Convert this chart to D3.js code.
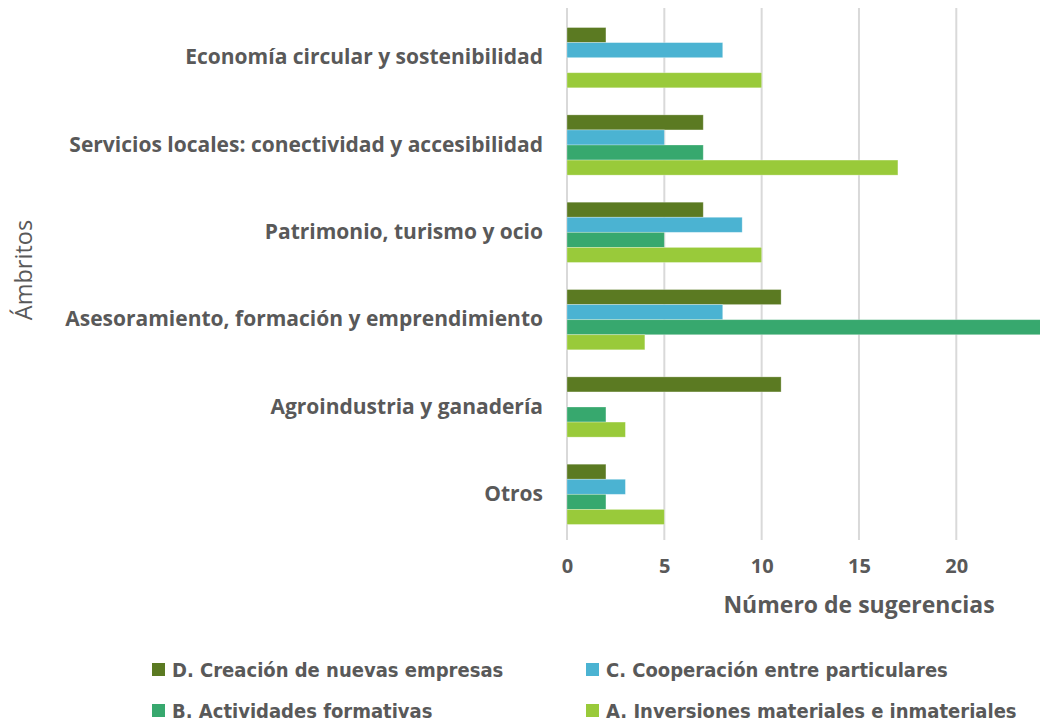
<!DOCTYPE html>
<html>
<head>
<meta charset="utf-8">
<script src="https://cdn.jsdelivr.net/npm/d3@7"></script>
<style>
  html, body { margin: 0; padding: 0; background: #fff; }
  svg { display: block; }
</style>
</head>
<body>
<svg id="chart" width="1040" height="722"></svg>
<script>
// Ámbitos (top to bottom)
const categories = [
  "Economía circular y sostenibilidad",
  "Servicios locales: conectividad y accesibilidad",
  "Patrimonio, turismo y ocio",
  "Asesoramiento, formación y emprendimiento",
  "Agroindustria y ganadería",
  "Otros"
];

// Series, in the order they are stacked inside each group
const seriesNames = [
  "D. Creación de nuevas empresas",
  "C. Cooperación entre particulares",
  "B. Actividades formativas",
  "A. Inversiones materiales e inmateriales"
];

const valuesD = [2, 7, 7, 11, 11, 2];
const valuesC = [8, 5, 9, 8, 0, 3];
const valuesB = [0, 7, 5, 25, 2, 2];
const valuesA = [10, 17, 10, 4, 3, 5];

const xTicks = [0, 5, 10, 15, 20];
const xMax = 24.3;

const colors = ["#5B7A22", "#4BB3D2", "#37A86E", "#99CA3A"];

const seriesValues = [valuesD, valuesC, valuesB, valuesA];

const svg = d3.select("#chart");
const plot = { left: 567, right: 1040, top: 14, bottom: 538 };

const x = d3.scaleLinear().domain([0, xMax]).range([plot.left, plot.right]);
const y = d3.scaleBand().domain(categories).range([plot.top, plot.bottom]).paddingInner(0.31).paddingOuter(0.155);
const ySub = d3.scaleBand().domain(seriesNames).range([0, y.bandwidth()]);

const textColor = "#595959";

// vertical gridlines
svg.append("g")
  .selectAll("line")
  .data(xTicks)
  .join("line")
  .attr("x1", d => x(d)).attr("x2", d => x(d))
  .attr("y1", 8).attr("y2", 540)
  .attr("stroke", "#d9d9d9")
  .attr("stroke-width", 2);

// bars
const groups = svg.append("g")
  .selectAll("g")
  .data(categories)
  .join("g")
  .attr("transform", d => `translate(0,${y(d)})`);

groups.selectAll("rect")
  .data((c, i) => seriesNames.map((s, j) => ({ s, j, v: seriesValues[j][i] })))
  .join("rect")
  .filter(d => d.v > 0)
  .attr("x", x(0))
  .attr("y", d => ySub(d.s))
  .attr("width", d => x(d.v) - x(0))
  .attr("height", ySub.bandwidth())
  .attr("fill", d => colors[d.j])
  .attr("stroke", "rgba(255,255,255,0.35)")
  .attr("stroke-width", 0.8);

// category labels
const yAxis = d3.axisLeft(y).tickSize(0).tickPadding(24);
const yg = svg.append("g").attr("transform", `translate(${plot.left},0)`).call(yAxis);
yg.select(".domain").remove();
yg.selectAll("text")
  .attr("fill", textColor)
  .style("font-family", "'Open Sans', sans-serif")
  .style("font-weight", "700")
  .style("font-size", "21px");

// x tick labels
const xAxis = d3.axisBottom(x).tickValues(xTicks).tickSize(0).tickPadding(0);
const xg = svg.append("g").attr("transform", `translate(0,566)`).call(xAxis);
xg.select(".domain").remove();
xg.selectAll("text")
  .attr("fill", textColor)
  .attr("dy", "0.35em")
  .style("font-family", "'Open Sans', sans-serif")
  .style("font-weight", "700")
  .style("font-size", "20px");

// axis titles
svg.append("text")
  .attr("x", 859).attr("y", 605)
  .attr("dy", "0.35em")
  .attr("text-anchor", "middle")
  .attr("fill", textColor)
  .style("font-family", "'Open Sans', sans-serif")
  .style("font-weight", "700")
  .style("font-size", "23px")
  .text("Número de sugerencias");

svg.append("text")
  .attr("transform", "translate(32,270) rotate(-90)")
  .attr("text-anchor", "middle")
  .attr("fill", textColor)
  .style("font-family", "'Open Sans', sans-serif")
  .style("font-size", "23.5px")
  .text("Ámbritos");

// legend, two columns by two rows
const legendPos = [
  { x: 152, y: 670 }, { x: 586, y: 670 },
  { x: 152, y: 711 }, { x: 586, y: 711 }
];
const lg = svg.append("g")
  .selectAll("g")
  .data(seriesNames)
  .join("g")
  .attr("transform", (d, i) => `translate(${legendPos[i].x},${legendPos[i].y})`);
lg.append("rect")
  .attr("x", 0).attr("y", -7)
  .attr("width", 13).attr("height", 13)
  .attr("fill", (d, i) => colors[i]);
lg.append("text")
  .attr("x", 20).attr("y", 0)
  .attr("dy", "0.35em")
  .attr("fill", textColor)
  .style("font-family", "'DejaVu Sans Condensed', 'DejaVu Sans', sans-serif")
  .style("font-stretch", "condensed")
  .style("font-weight", "700")
  .style("font-size", "20px")
  .text(d => d);
</script>
</body>
</html>
